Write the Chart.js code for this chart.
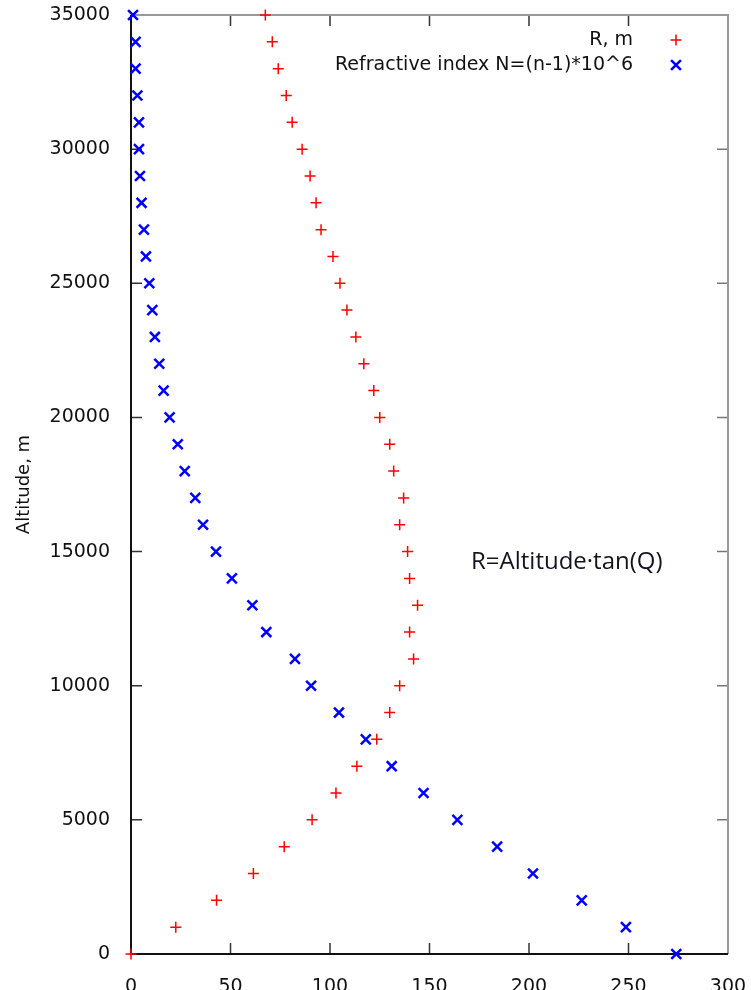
<!DOCTYPE html>
<html><head><meta charset="utf-8">
<script src="https://cdn.jsdelivr.net/npm/chart.js@4.4.1/dist/chart.umd.min.js"></script>
<style>html,body{margin:0;padding:0;background:#fff}#wrap{position:relative;width:751px;height:990px}</style>
</head><body><div id="wrap"><canvas id="c" width="751" height="990"></canvas></div>
<script>
const altitude = [0,1000,2000,3000,4000,5000,6000,7000,8000,9000,10000,11000,12000,13000,14000,15000,16000,17000,
  18000,19000,20000,21000,22000,23000,24000,25000,26000,27000,28000,29000,30000,31000,32000,33000,34000,35000];
const rValues = [0,22.5,43,61.5,77,91,103,113.5,123.5,130,135,142,140,144,140,139,135,137,
  132,130,125,122,117,113,108.5,105,101.5,95.5,93,90,86,81,78,74,71,67.5];
const nValues = [274,248.7,226.5,202,184,164,147,131,118,104.5,90.5,82.4,68,61,50.7,42.7,36.2,32.3,
  27,23.5,19.4,16.4,14.2,12,10.7,9.2,7.5,6.5,5.3,4.5,4,4,3.2,2.3,2.3,1];
const xTickValues = [0,50,100,150,200,250,300];
const yTickValues = [0,5000,10000,15000,20000,25000,30000,35000];
const seriesLabels = ['R, m','Refractive index N=(n-1)*10^6'];
const yAxisTitle = 'Altitude, m';
const annotationText = 'R=Altitude\u00b7tan(Q)';

const TICK_FONT = '19px "DejaVu Sans"';

const framePlugin = {
  id: 'frame',
  beforeDatasetsDraw(chart) {
    const {ctx, chartArea: a, scales: {x, y}} = chart;
    ctx.save();
    const tl = 11;
    ctx.lineWidth = 1.5;
    ctx.strokeStyle = '#333';
    ctx.beginPath();
    xTickValues.forEach(v => {
      const px = x.getPixelForValue(v);
      ctx.moveTo(px, a.bottom); ctx.lineTo(px, a.bottom - tl);
      ctx.moveTo(px, a.top); ctx.lineTo(px, a.top + tl);
    });
    yTickValues.forEach(v => {
      const py = y.getPixelForValue(v);
      ctx.moveTo(a.left, py); ctx.lineTo(a.left + tl, py);
    });
    ctx.stroke();
    ctx.strokeStyle = '#777';
    ctx.beginPath();
    yTickValues.forEach(v => {
      const py = y.getPixelForValue(v);
      ctx.moveTo(a.right, py); ctx.lineTo(a.right - tl, py);
    });
    ctx.stroke();
    ctx.lineWidth = 2;
    ctx.strokeStyle = '#999';
    ctx.beginPath();
    ctx.moveTo(a.left, a.top); ctx.lineTo(a.right, a.top); ctx.lineTo(a.right, a.bottom);
    ctx.stroke();
    ctx.strokeStyle = '#111';
    ctx.beginPath();
    ctx.moveTo(a.left, a.top); ctx.lineTo(a.left, a.bottom); ctx.lineTo(a.right, a.bottom);
    ctx.stroke();
    ctx.restore();
  },
  afterDraw(chart) {
    const {ctx, chartArea: a} = chart;
    ctx.save();
    ctx.font = TICK_FONT;
    ctx.fillStyle = '#111';
    ctx.textAlign = 'right';
    ctx.textBaseline = 'middle';
    const tx = a.right - 95, sx = a.right - 52;
    const rows = [a.top + 25, a.top + 50];
    chart.data.datasets.forEach((ds, i) => {
      ctx.fillText(ds.label, tx, rows[i]);
      ctx.strokeStyle = ds.borderColor;
      ctx.lineWidth = ds.borderWidth;
      ctx.beginPath();
      if (ds.pointStyle === 'cross') {
        const r = ds.pointRadius;
        ctx.moveTo(sx - r, rows[i]); ctx.lineTo(sx + r, rows[i]);
        ctx.moveTo(sx, rows[i] - r); ctx.lineTo(sx, rows[i] + r);
      } else {
        const r = ds.pointRadius * Math.SQRT1_2;
        ctx.moveTo(sx - r, rows[i] - r); ctx.lineTo(sx + r, rows[i] + r);
        ctx.moveTo(sx - r, rows[i] + r); ctx.lineTo(sx + r, rows[i] - r);
      }
      ctx.stroke();
    });
    ctx.font = '24px "Open Sans"';
    ctx.fillStyle = '#141420';
    ctx.textAlign = 'left';
    ctx.fillText(annotationText, 471, 562);
    ctx.restore();
  }
};

new Chart(document.getElementById('c'), {
  type: 'scatter',
  data: {
    datasets: [
      { label: seriesLabels[0], data: altitude.map((a, i) => ({x: rValues[i], y: a})),
        pointStyle: 'cross', pointRadius: 5.5, pointHoverRadius: 0, borderColor: '#ff0000', backgroundColor: 'rgba(0,0,0,0)',
        borderWidth: 1.5, pointBorderWidth: 1.5, clip: false },
      { label: seriesLabels[1], data: altitude.map((a, i) => ({x: nValues[i], y: a})),
        pointStyle: 'crossRot', pointRadius: 7, pointHoverRadius: 0, borderColor: '#0000ff', backgroundColor: 'rgba(0,0,0,0)',
        borderWidth: 2.5, pointBorderWidth: 2.5, clip: false }
    ]
  },
  options: {
    responsive: false, animation: false, devicePixelRatio: 1, events: [],
    layout: { autoPadding: false, padding: { left: 14, right: 23, top: 15, bottom: 0 } },
    plugins: { legend: { display: false }, tooltip: { enabled: false } },
    scales: {
      x: {
        type: 'linear', min: 0, max: 300,
        afterBuildTicks: s => { s.ticks = xTickValues.map(v => ({value: v})); },
        afterFit: s => { s.height = 36; s.paddingRight = 0; s.paddingLeft = 0; },
        grid: { display: false }, border: { display: false },
        ticks: { font: { family: 'DejaVu Sans', size: 19 }, color: '#111', padding: 14, maxRotation: 0,
          callback: v => String(v) }
      },
      y: {
        type: 'linear', min: 0, max: 35000,
        afterBuildTicks: s => { s.ticks = yTickValues.map(v => ({value: v})); },
        afterFit: s => { s.width = 117; s.paddingTop = 0; s.paddingBottom = 0; },
        grid: { display: false }, border: { display: false },
        ticks: { font: { family: 'DejaVu Sans', size: 19 }, color: '#111', padding: 13,
          callback: v => String(v) },
        title: { display: true, text: yAxisTitle, font: { family: 'DejaVu Sans', size: 18 }, color: '#111', padding: 0 }
      }
    }
  },
  plugins: [framePlugin]
});
</script></body></html>
